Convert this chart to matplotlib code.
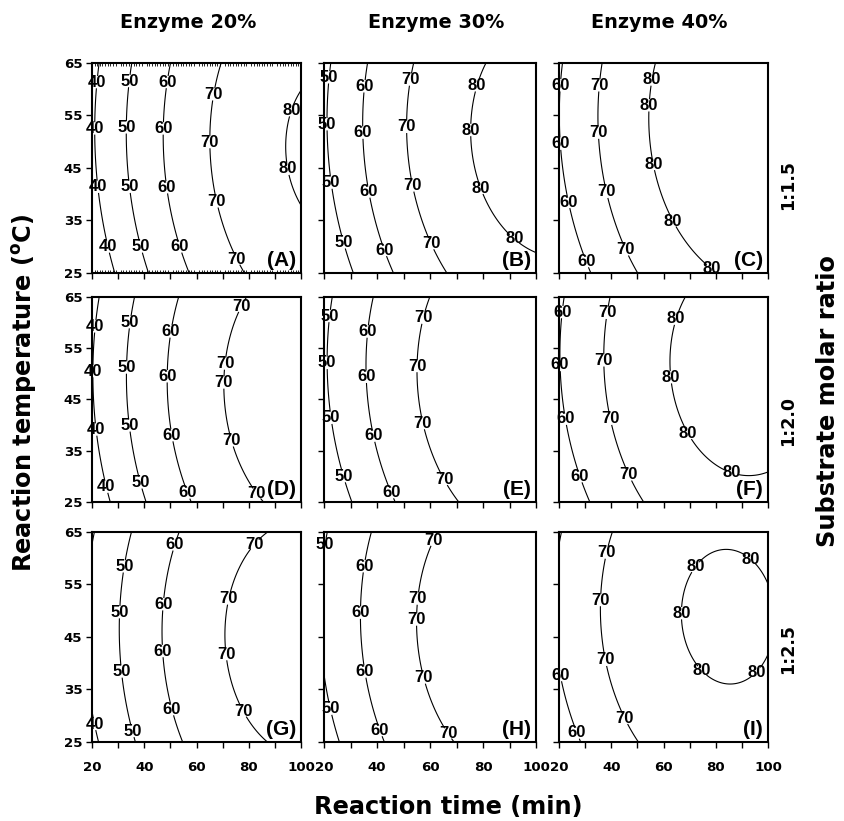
import numpy as np
import matplotlib
matplotlib.use("Agg")
import matplotlib.pyplot as plt
from matplotlib.ticker import MultipleLocator

# ---------------------------------------------------------------------------
# Factor ranges and panel annotations
# ---------------------------------------------------------------------------
time_range = (20, 100)          # reaction time, min
temp_range = (25, 65)           # reaction temperature, deg C
time_ticks = [20, 30, 40, 50, 60, 70, 80, 90, 100]
time_ticklabels = ["20", "", "40", "", "60", "", "80", "", "100"]
temp_ticks = [25, 35, 45, 55, 65]
temp_ticklabels = ["25", "35", "45", "55", "65"]

enzyme_loads = ["Enzyme 20%", "Enzyme 30%", "Enzyme 40%"]
molar_ratios = ["1:1.5", "1:2.0", "1:2.5"]
panel_tags = ["(A)", "(B)", "(C)", "(D)", "(E)", "(F)", "(G)", "(H)", "(I)"]

# ---------------------------------------------------------------------------
# Yield iso-lines: (yield %, temperature degC, time min) observed on each line
# ---------------------------------------------------------------------------
iso_A = [
    (40, 65, 22.3), (40, 61.3, 22.0), (40, 52.5, 21.0), (40, 41.4, 22.3), (40, 35.7, 23.7), (40, 30, 26.0), (40, 25, 29.0),
    (50, 65, 35.7), (50, 61.5, 34.4), (50, 52.7, 33.2), (50, 41.4, 34.4), (50, 30, 38.6), (50, 25, 41.5),
    (60, 65, 50.0), (60, 61.3, 49.0), (60, 52.5, 47.2), (60, 41.3, 48.5), (60, 30, 53.6), (60, 25, 57.2),
    (70, 65, 69.2), (70, 59, 66.4), (70, 49.9, 65.1), (70, 38.6, 67.7), (70, 27.6, 75.3), (70, 25, 78.5),
    (80, 59.8, 100), (80, 55.9, 96.4), (80, 51.6, 94.5), (80, 44.8, 94.8), (80, 38.3, 100),
]
iso_B = [
    (50, 65, 21.6), (50, 62.2, 22.3), (50, 53.3, 21.2), (50, 42.2, 22.9), (50, 30.8, 27.4), (50, 25, 31.0),
    (60, 65, 36.6), (60, 60.5, 35.5), (60, 51.7, 34.7), (60, 40.5, 37.0), (60, 29.3, 42.7), (60, 25, 46.4),
    (70, 65, 55.0), (70, 61.8, 52.5), (70, 52.8, 51.3), (70, 41.6, 53.1), (70, 30.5, 60.1), (70, 25, 66.2),
    (80, 65, 80.6), (80, 60.7, 77.5), (80, 52.2, 74.8), (80, 41, 78.5), (80, 33.2, 88.7), (80, 31.5, 91.8), (80, 29.4, 100),
]
iso_C = [
    (60, 65, 21.2), (60, 60.7, 20.6), (60, 49.6, 20.6), (60, 38.5, 23.7), (60, 27.2, 30.5), (60, 25, 31.9),
    (70, 65, 36.6), (70, 60.7, 35.4), (70, 51.7, 35.0), (70, 40.4, 38.0), (70, 29.4, 45.6), (70, 25, 50.4),
    (80, 65, 57.1), (80, 61.8, 55.5), (80, 56.9, 54.5), (80, 45.7, 55.9), (80, 34.9, 63.7), (80, 25.9, 78.5), (80, 25, 80.1),
]
iso_D = [
    (40, 65, 22.3), (40, 59.2, 21.6), (40, 50.5, 20.4), (40, 39.1, 21.2), (40, 28, 25.8), (40, 25, 26.8),
    (50, 65, 36.0), (50, 60, 35.0), (50, 51.2, 33.6), (50, 39.9, 34.0), (50, 28.8, 38.6), (50, 25, 40.8),
    (60, 65, 53.2), (60, 58.2, 50.5), (60, 49.5, 49.0), (60, 38, 50.5), (60, 26.8, 56.7), (60, 25, 57.5),
    (70, 65, 80.0), (70, 63.2, 76.9), (70, 52, 70.5), (70, 48.3, 69.5), (70, 37, 73.6), (70, 26.8, 83.5), (70, 25, 85.6),
]
iso_E = [
    (50, 65, 22.3), (50, 61.2, 22.7), (50, 52.1, 21.2), (50, 41.4, 22.7), (50, 30, 27.4), (50, 25, 30.4),
    (60, 65, 39.0), (60, 58.2, 36.6), (60, 49.4, 36.2), (60, 37.9, 38.6), (60, 26.8, 45.2), (60, 25, 47.0),
    (70, 65, 60.1), (70, 60.9, 57.4), (70, 51.5, 54.6), (70, 40.3, 57.0), (70, 29.3, 65.2), (70, 25, 71.4),
]
iso_F = [
    (60, 65, 21.6), (60, 62, 21.2), (60, 51.7, 20.6), (60, 41.2, 22.3), (60, 30, 28.2), (60, 25, 31.5),
    (70, 65, 39.7), (70, 61.8, 39.1), (70, 52.6, 37.0), (70, 41.2, 39.7), (70, 30.3, 46.9), (70, 25, 52.8),
    (80, 65, 68.2), (80, 60.7, 64.7), (80, 49.3, 62.7), (80, 38.1, 68.8), (80, 33, 78.0), (80, 30, 85.8),
    (80, 30.6, 95.4), (80, 31.2, 100),
]
iso_G = [
    (40, 65, 20.8), (40, 61, 20.0), (40, 31.8, 20.0), (40, 28.4, 20.8), (40, 25, 22.1),
    (50, 65, 34.6), (50, 58.4, 32.4), (50, 49.7, 30.3), (50, 38.4, 31.1), (50, 27.1, 35.7), (50, 25, 36.7),
    (60, 65, 53.2), (60, 62.5, 52.0), (60, 51.2, 47.4), (60, 42.3, 47.0), (60, 31.2, 50.5), (60, 25, 55.3),
    (70, 65, 87.6), (70, 62.5, 82.5), (70, 52.3, 72.2), (70, 41.7, 71.1), (70, 30.8, 77.7), (70, 25, 86.6),
]
iso_H = [
    (50, 65, 21.0), (50, 62.5, 20.6), (50, 38, 20.0), (50, 31.3, 22.3), (50, 25, 25.7),
    (60, 65, 37.6), (60, 58.4, 35.5), (60, 49.6, 33.9), (60, 38.4, 35.5), (60, 27.2, 41.1), (60, 25, 43.0),
    (70, 65, 63.0), (70, 63.3, 61.7), (70, 52.3, 55.0), (70, 48.3, 54.6), (70, 37.2, 57.4), (70, 26.8, 67.3), (70, 25, 68.5),
]
iso_I = [
    (60, 65, 21.0), (60, 62, 20.0), (60, 37.7, 20.4), (60, 26.7, 26.8), (60, 25, 28.4),
    (70, 65, 39.9), (70, 61, 38.3), (70, 52, 36.0), (70, 40.6, 37.6), (70, 29.5, 45.3), (70, 25, 50.4),
    (80, 61.5, 84.2), (80, 59.6, 93.1), (80, 55.5, 100), (80, 58.2, 72.4), (80, 49.5, 67.0),
    (80, 38.5, 74.6), (80, 36.2, 85.5), (80, 38.2, 95.7), (80, 41.5, 100),
]
panel_data = [iso_A, iso_B, iso_C, iso_D, iso_E, iso_F, iso_G, iso_H, iso_I]

panel_levels = [
    [40, 50, 60, 70, 80], [50, 60, 70, 80], [60, 70, 80],
    [40, 50, 60, 70], [50, 60, 70], [60, 70, 80],
    [40, 50, 60, 70], [50, 60, 70], [60, 70, 80],
]

# where the inline value labels sit on each panel: (time, temperature)
label_spots = [
    [(22, 61.3), (21, 52.5), (22.3, 41.4), (26, 30), (34.4, 61.5), (33.2, 52.7), (34.4, 41.4), (38.6, 30),
     (49, 61.3), (47.2, 52.5), (48.5, 41.3), (53.6, 30), (66.4, 59), (65.1, 49.9), (67.7, 38.6), (75.3, 27.6),
     (96.4, 55.9), (94.8, 44.8)],
    [(22.3, 62.2), (21.2, 53.3), (22.9, 42.2), (27.4, 30.8), (35.5, 60.5), (34.7, 51.7), (37, 40.5), (42.7, 29.3),
     (52.5, 61.8), (51.3, 52.8), (53.1, 41.6), (60.1, 30.5), (77.5, 60.7), (74.8, 52.2), (78.5, 41), (91.8, 31.5)],
    [(20.6, 60.7), (20.6, 49.6), (23.7, 38.5), (30.5, 27.2), (35.4, 60.7), (35, 51.7), (38, 40.4), (45.6, 29.4),
     (55.5, 61.8), (54.5, 56.9), (55.9, 45.7), (63.7, 34.9), (78.5, 25.9)],
    [(21.6, 59.2), (20.4, 50.5), (21.2, 39.1), (25.8, 28), (35, 60), (33.6, 51.2), (34, 39.9), (38.6, 28.8),
     (50.5, 58.2), (49, 49.5), (50.5, 38), (56.7, 26.8), (76.9, 63.2), (70.5, 52), (69.5, 48.3), (73.6, 37),
     (83.5, 26.8)],
    [(22.7, 61.2), (21.2, 52.1), (22.7, 41.4), (27.4, 30), (36.6, 58.2), (36.2, 49.4), (38.6, 37.9), (45.2, 26.8),
     (57.4, 60.9), (54.6, 51.5), (57, 40.3), (65.2, 29.3)],
    [(21.2, 62), (20.6, 51.7), (22.3, 41.2), (28.2, 30), (39.1, 61.8), (37, 52.6), (39.7, 41.2), (46.9, 30.3),
     (64.7, 60.7), (62.7, 49.3), (68.8, 38.1), (85.8, 30)],
    [(20.8, 28.4), (32.4, 58.4), (30.3, 49.7), (31.1, 38.4), (35.7, 27.1), (52, 62.5), (47.4, 51.2), (47, 42.3),
     (50.5, 31.2), (82.5, 62.5), (72.2, 52.3), (71.1, 41.7), (77.7, 30.8)],
    [(20.6, 62.5), (22.3, 31.3), (35.5, 58.4), (33.9, 49.6), (35.5, 38.4), (41.1, 27.2), (61.7, 63.3), (55, 52.3),
     (54.6, 48.3), (57.4, 37.2), (67.3, 26.8)],
    [(20.4, 37.7), (26.8, 26.7), (38.3, 61), (36, 52), (37.6, 40.6), (45.3, 29.5), (72.4, 58.2), (93.1, 59.6),
     (67, 49.5), (74.6, 38.5), (95.7, 38.2)],
]


def quadratic_terms(t, T):
    u = (np.asarray(t, float) - 60.0) / 40.0
    v = (np.asarray(T, float) - 45.0) / 20.0
    return np.stack([np.ones_like(u), u, v, u * u, v * v, u * v], axis=-1)


def response_surface(points, t_grid, T_grid):
    """Second-order response surface through the iso-line observations."""
    y, T, t = np.array(points, float).T
    coef, *_ = np.linalg.lstsq(quadratic_terms(t, T), y, rcond=None)
    return quadratic_terms(t_grid, T_grid) @ coef


# ---------------------------------------------------------------------------
# Figure
# ---------------------------------------------------------------------------
plt.rcParams["font.family"] = "DejaVu Sans"
plt.rcParams["font.weight"] = "bold"
plt.rcParams["mathtext.fontset"] = "custom"
plt.rcParams["mathtext.bf"] = "DejaVu Sans:bold"
plt.rcParams["mathtext.rm"] = "DejaVu Sans:bold"

W, H = 844, 821
fig = plt.figure(figsize=(W / 100, H / 100), dpi=100)

col_px = [(92, 301), (324, 536), (559, 768)]
row_px = [(62.7, 273), (296.7, 502), (531.7, 742)]

tg, Tg = np.meshgrid(np.linspace(*time_range, 400), np.linspace(*temp_range, 400))

for r in range(3):
    for c in range(3):
        k = 3 * r + c
        x0, x1 = col_px[c]
        y0, y1 = row_px[r]
        ax = fig.add_axes([x0 / W, 1 - y1 / H, (x1 - x0) / W, (y1 - y0) / H])

        Z = response_surface(panel_data[k], tg, Tg)
        cs = ax.contour(tg, Tg, Z, levels=panel_levels[k], colors="black", linewidths=0.8)
        with plt.rc_context({"font.family": "Liberation Sans", "font.weight": "bold"}):
            texts = ax.clabel(cs, fmt="%d", fontsize=12, inline=True, inline_spacing=-3,
                              manual=label_spots[k])
        for txt in texts:
            txt.set_rotation(0)
            txt.set_clip_on(False)
            txt.set_zorder(5)

        ax.set_xlim(*time_range)
        ax.set_ylim(*temp_range)
        ax.set_xticks(time_ticks)
        ax.set_yticks(temp_ticks)
        if r == 2:
            ax.set_xticklabels(time_ticklabels)
        else:
            ax.set_xticklabels([])
        if c == 0:
            ax.set_yticklabels(temp_ticklabels)
        else:
            ax.set_yticklabels([])
        ax.tick_params(direction="out", length=4, width=1, labelsize=9.6, pad=3)
        ax.tick_params(axis="x", pad=10)
        for s in ax.spines.values():
            s.set_linewidth(1.5)

        if k == 0:
            ax.xaxis.set_minor_locator(MultipleLocator(1))
            ax.tick_params(axis="x", which="minor", direction="in", top=True, bottom=True,
                           length=2, width=0.6)

        ax.text(0.977, 0.015, panel_tags[k], transform=ax.transAxes, ha="right", va="bottom",
                fontsize=15, fontweight="bold", family="Liberation Sans")

# column and row headers
for c, name in enumerate(enzyme_loads):
    fig.text([188, 436, 659.5][c] / W, 1 - 23 / H, name, ha="center", va="center",
             fontsize=13.9, fontweight="bold")
for r, name in enumerate(molar_ratios):
    fig.text(788 / W, 1 - [185, 421, 649][r] / H, name, ha="center", va="center",
             rotation=90, fontsize=12.5, fontweight="bold")

fig.text(448 / W, 1 - 807 / H, "Reaction time (min)", ha="center", va="center",
         fontsize=17.3, fontweight="bold")
fig.text(24.5 / W, 1 - 393 / H, r"Reaction temperature ($^\mathbf{o}$C)", ha="center",
         va="center", rotation=90, fontsize=17.3, fontweight="bold")
fig.text(828 / W, 1 - 401 / H, "Substrate molar ratio", ha="center", va="center",
         rotation=90, fontsize=17.3, fontweight="bold")

fig.savefig("out.png", dpi=100)
